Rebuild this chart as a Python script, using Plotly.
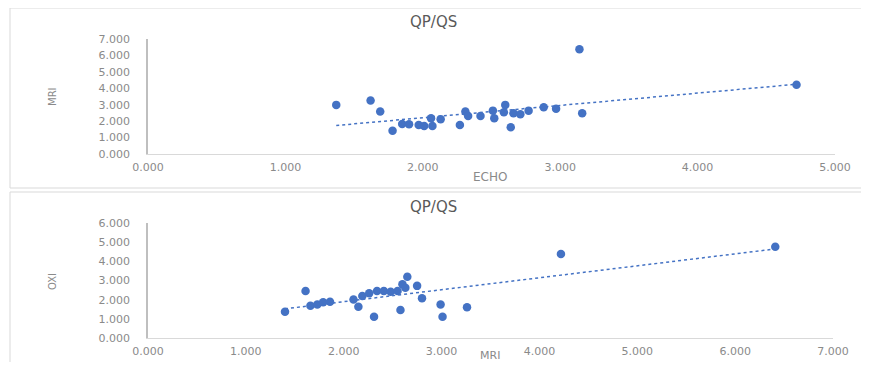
import numpy as np
import plotly.graph_objects as go

# ---- Data ----
# Top chart: QP/QS, ECHO (x) vs MRI (y)
echo_top = [1.37, 1.62, 1.69, 1.78, 1.85, 1.90, 1.97, 2.01, 2.07, 2.06, 2.13, 2.27,
            2.31, 2.33, 2.42, 2.52, 2.51, 2.60, 2.59, 2.66, 2.71, 2.64, 2.77, 2.88,
            2.97, 3.16, 3.14, 4.72]
mri_top = [2.99, 3.25, 2.58, 1.42, 1.83, 1.81, 1.77, 1.71, 1.71, 2.18, 2.12, 1.77,
           2.58, 2.32, 2.32, 2.18, 2.64, 2.99, 2.54, 2.48, 2.42, 1.63, 2.64, 2.85,
           2.76, 2.48, 6.38, 4.21]

# Bottom chart: QP/QS, MRI (x) vs OXI (y)
mri_bot = [1.40, 1.61, 1.66, 1.73, 1.79, 1.86, 2.10, 2.15, 2.19, 2.26, 2.31, 2.34,
           2.41, 2.48, 2.55, 2.58, 2.60, 2.65, 2.63, 2.75, 2.80, 2.99, 3.01, 3.26,
           4.22, 6.41]
oxi_bot = [1.37, 2.45, 1.68, 1.75, 1.86, 1.89, 2.01, 1.63, 2.19, 2.33, 1.11, 2.45,
           2.45, 2.41, 2.45, 1.46, 2.80, 3.19, 2.62, 2.72, 2.07, 1.75, 1.11, 1.60,
           4.38, 4.76]

chart_title = "QP/QS"
top_xlabel, top_ylabel = "ECHO", "MRI"
bot_xlabel, bot_ylabel = "MRI", "OXI"
top_xrange, top_yrange = [0, 5], [0, 7]
bot_xrange, bot_yrange = [0, 7], [0, 6]

OFF = 8                      # default page body margin
W, H = 869 - 2 * OFF, 370 - 2 * OFF   # keep the figure inside the window
BLUE = "#4472c4"
GRAY_TXT = "#8a8a8a"
TITLE_TXT = "#595959"
FONT = "DejaVu Sans"


def trend(x, y):
    m, b = np.polyfit(x, y, 1)
    xs = [min(x), max(x)]
    return xs, [m * v + b for v in xs]


fig = go.Figure()

tx, ty = trend(echo_top, mri_top)
fig.add_trace(go.Scatter(x=tx, y=ty, mode="lines", xaxis="x", yaxis="y",
                         line=dict(color=BLUE, width=1.5, dash="dot"), showlegend=False))
fig.add_trace(go.Scatter(x=echo_top, y=mri_top, mode="markers", xaxis="x", yaxis="y",
                         marker=dict(color=BLUE, size=8.5), showlegend=False))

bx, by = trend(mri_bot, oxi_bot)
fig.add_trace(go.Scatter(x=bx, y=by, mode="lines", xaxis="x2", yaxis="y2",
                         line=dict(color=BLUE, width=1.5, dash="dot"), showlegend=False))
fig.add_trace(go.Scatter(x=mri_bot, y=oxi_bot, mode="markers", xaxis="x2", yaxis="y2",
                         marker=dict(color=BLUE, size=8.5), showlegend=False))


def px_x(p):
    return (p - OFF) / W


def px_y(p):
    return 1 - (p - OFF) / H


tickfont = dict(family=FONT, size=11, color=GRAY_TXT)
xcommon = dict(showgrid=False, zeroline=False, showline=True, linecolor="#d9d9d9",
               linewidth=1, ticks="", tickformat=".3f", tickfont=tickfont,
               dtick=1, fixedrange=True, ticklabelstandoff=3, automargin=False)
ycommon = dict(showgrid=False, zeroline=False, showline=True, linecolor="#bfbfbf",
               linewidth=1.5, ticks="", tickformat=".3f", tickfont=tickfont,
               dtick=1, fixedrange=True, ticklabelstandoff=14, automargin=False)

fig.update_layout(
    width=W, height=H,
    margin=dict(l=0, r=0, t=0, b=0, autoexpand=False),
    paper_bgcolor="white", plot_bgcolor="white",
    xaxis=dict(domain=[px_x(148), px_x(835)], range=top_xrange, anchor="y", **xcommon),
    yaxis=dict(domain=[px_y(154), px_y(39)], range=top_yrange, anchor="x", **ycommon),
    xaxis2=dict(domain=[px_x(148), px_x(833)], range=bot_xrange, anchor="y2", **xcommon),
    yaxis2=dict(domain=[px_y(338), px_y(223)], range=bot_yrange, anchor="x2", **ycommon),
)

# chart frames (open to the right / bottom, like the cropped reference)
fig.add_shape(type="rect", xref="paper", yref="paper",
              x0=px_x(10), x1=1.2, y0=px_y(188), y1=px_y(8),
              line=dict(color="#d9d9d9", width=1), layer="below")
fig.add_shape(type="rect", xref="paper", yref="paper",
              x0=px_x(10), x1=1.2, y0=-0.2, y1=px_y(192),
              line=dict(color="#d9d9d9", width=1), layer="below")


def label(text, x, y, size, color, angle=0):
    return dict(text=text, x=px_x(x), y=px_y(y), xref="paper", yref="paper",
                xanchor="center", yanchor="middle", showarrow=False, textangle=angle,
                font=dict(family=FONT, size=size, color=color))


ann = [
    label(chart_title, 433, 22, 15, TITLE_TXT),
    label(chart_title, 433, 207, 15, TITLE_TXT),
    label(top_xlabel, 490, 177, 12, GRAY_TXT),
    label(bot_xlabel, 490, 355, 11, GRAY_TXT),
    label(top_ylabel, 52, 97, 10, GRAY_TXT, -90),
    label(bot_ylabel, 52, 282, 10, GRAY_TXT, -90),
]
fig.update_layout(annotations=ann)

fig.write_html("out.html")
